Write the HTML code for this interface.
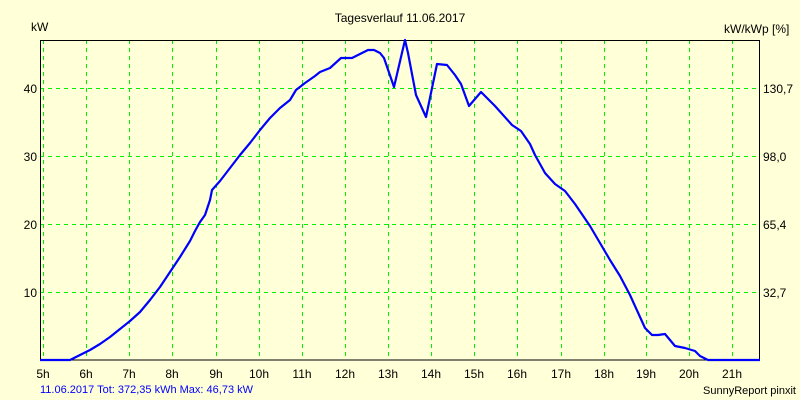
<!DOCTYPE html>
<html><head><style>html,body{margin:0;padding:0;background:#ffffd8;overflow:hidden}svg{display:block}</style></head><body>
<svg width="800" height="400" xmlns="http://www.w3.org/2000/svg" font-family="Liberation Sans, sans-serif" font-size="12">
<rect width="800" height="400" fill="#ffffd8"/>
<g stroke="#00ee00" stroke-dasharray="4,4" stroke-width="1">
<line x1="43.5" y1="40" x2="43.5" y2="360"/><line x1="86.5" y1="40" x2="86.5" y2="360"/><line x1="129.5" y1="40" x2="129.5" y2="360"/><line x1="172.5" y1="40" x2="172.5" y2="360"/><line x1="216.5" y1="40" x2="216.5" y2="360"/><line x1="259.5" y1="40" x2="259.5" y2="360"/><line x1="302.5" y1="40" x2="302.5" y2="360"/><line x1="345.5" y1="40" x2="345.5" y2="360"/><line x1="388.5" y1="40" x2="388.5" y2="360"/><line x1="431.5" y1="40" x2="431.5" y2="360"/><line x1="474.5" y1="40" x2="474.5" y2="360"/><line x1="517.5" y1="40" x2="517.5" y2="360"/><line x1="561.5" y1="40" x2="561.5" y2="360"/><line x1="604.5" y1="40" x2="604.5" y2="360"/><line x1="646.5" y1="40" x2="646.5" y2="360"/><line x1="689.5" y1="40" x2="689.5" y2="360"/><line x1="732.5" y1="40" x2="732.5" y2="360"/>
<line x1="40" y1="88.5" x2="760" y2="88.5"/><line x1="40" y1="156.5" x2="760" y2="156.5"/><line x1="40" y1="224.5" x2="760" y2="224.5"/><line x1="40" y1="292.5" x2="760" y2="292.5"/>
</g>
<rect x="40.5" y="40.5" width="719" height="319.5" fill="none" stroke="#000" stroke-width="1"/>
<polyline fill="none" stroke="#0000ff" stroke-width="2.2" stroke-linejoin="round" points="40,360 70,360 80,355 90,350 100,344 110,337 120,329 130,321 140,312 150,300 160,287 170,272 180,257 190,241 195,231 200,222 205,215 210,200 212,190 220,181 230,168 240,155 250,143 260,130 270,118 280,108 290,100 296,90 305,83 315,76 320,72 330,68 341,58 352,58 360,54 368,50 374,50 380,53 384,58 394,87 405,40 408,53 416,95 426,117 437,64 447,65 455,75 461,84 469,106 481,92 495,106 512,125 521,131 530,144 535,155 545,173 555,184 565,191 575,204 590,226 600,243 610,260 620,276 630,295 640,317 645,328 652,335 658,335 665,334 675,346 685,348 695,351 700,356 708,360 760,360"/>
<g fill="#000" text-anchor="end">
<text x="37" y="93">40</text><text x="37" y="161">30</text><text x="37" y="229">20</text><text x="37" y="297">10</text>
</g>
<g fill="#000">
<text x="763" y="93">130,7</text><text x="763" y="161">98,0</text><text x="763" y="229">65,4</text><text x="763" y="297">32,7</text>
<text x="31" y="31">kW</text><text x="724" y="33">kW/kWp [%]</text>
<text x="400" y="22" text-anchor="middle">Tagesverlauf 11.06.2017</text>
</g>
<g fill="#000" text-anchor="middle">
<text x="43" y="378">5h</text><text x="86" y="378">6h</text><text x="129" y="378">7h</text><text x="172" y="378">8h</text><text x="216" y="378">9h</text><text x="259" y="378">10h</text><text x="302" y="378">11h</text><text x="345" y="378">12h</text><text x="388" y="378">13h</text><text x="431" y="378">14h</text><text x="474" y="378">15h</text><text x="517" y="378">16h</text><text x="561" y="378">17h</text><text x="604" y="378">18h</text><text x="646" y="378">19h</text><text x="689" y="378">20h</text><text x="732" y="378">21h</text>
</g>
<text x="40" y="393" fill="#0000ff" font-size="11">11.06.2017 Tot: 372,35 kWh Max: 46,73 kW</text>
<text x="796" y="394" fill="#000" font-size="11" text-anchor="end">SunnyReport pinxit</text>
</svg>
</body></html>
